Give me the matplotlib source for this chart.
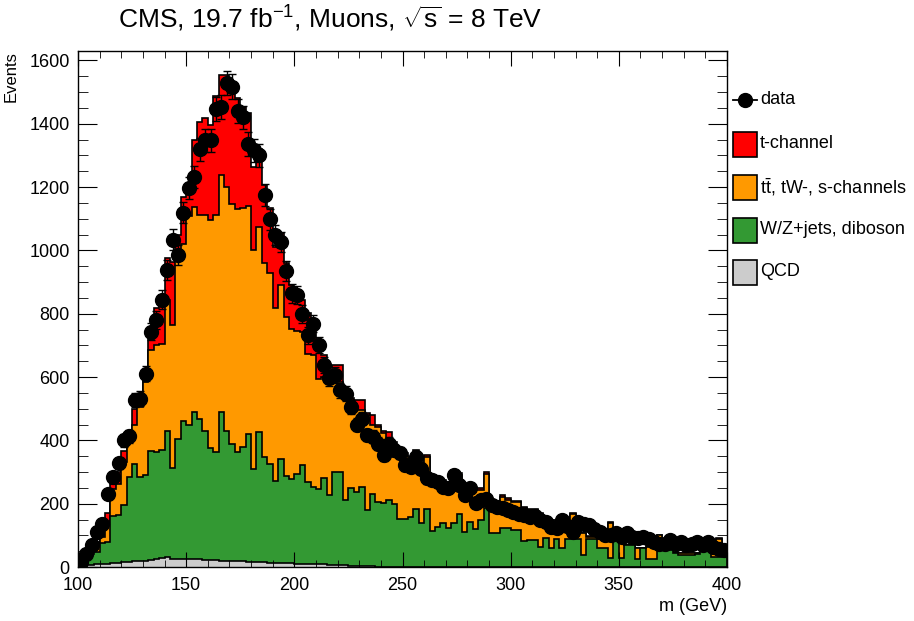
import numpy as np
import matplotlib

matplotlib.use("Agg")

import matplotlib.pyplot as plt
from matplotlib.lines import Line2D
from matplotlib.patches import Rectangle
from matplotlib.ticker import MultipleLocator

plt.rcParams["font.family"] = ["Liberation Sans", "DejaVu Sans"]
plt.rcParams["mathtext.fontset"] = "custom"
plt.rcParams["mathtext.rm"] = "Liberation Sans"
plt.rcParams["mathtext.it"] = "Liberation Sans:italic"
plt.rcParams["mathtext.bf"] = "Liberation Sans:bold"

# 120 bins of 2.5 GeV between 100 and 400 GeV
M_LOW, M_HIGH, N_BINS = 100, 400, 120

data = [16, 42, 69, 111, 137, 232, 283, 327, 400, 413,
        527, 532, 611, 743, 780, 845, 938, 1034, 985, 1119,
        1196, 1232, 1319, 1348, 1348, 1448, 1454, 1529, 1517, 1441,
        1420, 1336, 1317, 1301, 1175, 1098, 1048, 1027, 935, 864,
        859, 799, 732, 769, 701, 638, 596, 606, 559, 548,
        506, 450, 469, 417, 411, 390, 353, 390, 370, 359,
        322, 317, 348, 311, 280, 274, 269, 253, 248, 290,
        259, 227, 248, 201, 211, 216, 195, 190, 185, 180,
        174, 169, 164, 158, 160, 150, 143, 127, 122, 148,
        130, 111, 143, 137, 132, 120, 111, 101, 101, 106,
        95, 108, 95, 92, 95, 90, 80, 74, 74, 85,
        74, 80, 69, 74, 80, 69, 80, 64, 58, 55]

t_channel = [2, 3, 3, 4, 4, 35, 17, 38, 32, 20,
             50, 35, 15, 36, 117, 155, 133, 202, 71, 149,
             93, 210, 295, 306, 300, 376, 316, 353, 372, 348,
             321, 293, 264, 247, 248, 205, 193, 163, 168, 139,
             125, 101, 128, 90, 126, 70, 30, 53, 53, 12,
             8, 33, 33, 5, 32, 7, 8, 21, 15, 6,
             8, 8, 10, 8, 5, 7, 5, 6, 6, 2,
             6, 7, 7, 7, 8, 5, 4, 4, 6, 5,
             4, 2, 3, 2, 2, 3, 2, 2, 2, 2,
             2, 3, 1, 2, 2, 2, 1, 1, 2, 1,
             1, 1, 1, 1, 1, 1, 1, 1, 1, 1,
             1, 0, 0, 0, 0, 1, 1, 0, 4, 1]

ttbar = [8, 13, 15, 28, 21, 55, 85, 97, 138, 125,
         125, 220, 295, 318, 338, 335, 411, 450, 574, 561,
         663, 649, 643, 680, 720, 748, 749, 770, 759, 769,
         754, 719, 691, 647, 612, 602, 546, 549, 502, 474,
         451, 421, 405, 418, 347, 320, 363, 284, 284, 342,
         279, 258, 243, 300, 216, 237, 221, 193, 181, 206,
         199, 168, 177, 184, 166, 171, 153, 129, 142, 150,
         121, 134, 90, 124, 95, 110, 100, 100, 100, 91,
         90, 90, 102, 95, 95, 105, 39, 89, 37, 52,
         24, 82, 40, 69, 5, 5, 28, 28, 113, 21,
         79, 0, 0, 35, 0, 38, 38, 47, 13, 9,
         0, 8, 8, 8, 3, 8, 8, 11, 56, 16]

wjets = [9, 17, 34, 40, 65, 69, 148, 151, 180, 268,
         307, 266, 270, 344, 338, 343, 399, 287, 380, 434,
         421, 464, 444, 409, 354, 342, 469, 412, 369, 345,
         361, 404, 294, 410, 332, 312, 257, 329, 277, 266,
         283, 310, 258, 243, 238, 272, 220, 295, 295, 206,
         244, 235, 250, 178, 230, 205, 200, 212, 199, 153,
         153, 159, 182, 138, 182, 114, 127, 140, 122, 140,
         169, 109, 143, 119, 148, 185, 106, 106, 122, 122,
         116, 116, 83, 85, 85, 64, 93, 59, 90, 59,
         87, 87, 87, 37, 90, 90, 59, 59, 27, 85,
         27, 69, 69, 24, 59, 24, 24, 53, 53, 53,
         45, 37, 37, 37, 40, 51, 51, 32, 32, 43]

qcd = [3, 5, 6, 8, 10, 11, 12, 14, 15, 17,
       18, 19, 20, 22, 24, 27, 32, 26, 25, 26,
       26, 25, 24, 22, 22, 21, 20, 19, 20, 18,
       18, 17, 16, 16, 15, 14, 14, 13, 12, 12,
       11, 11, 10, 9, 9, 8, 7, 6, 6, 5,
       4, 3, 3, 2, 2, 1, 1, 1, 0, 0,
       0, 0, 0, 0, 0, 0, 0, 0, 0, 0,
       0, 0, 0, 0, 0, 0, 0, 0, 0, 0,
       0, 0, 0, 0, 0, 0, 0, 0, 0, 0,
       0, 0, 0, 0, 0, 0, 0, 0, 0, 0,
       0, 0, 0, 0, 0, 0, 0, 0, 0, 0,
       0, 0, 0, 0, 0, 0, 0, 0, 0, 0]

# stack order bottom -> top
stack_labels = ["QCD", "W/Z+jets, diboson", r"$\mathrm{t\bar{t}}$, tW-, s-channels", "t-channel"]
stack_colors = ["#cccccc", "#339933", "#ff9900", "#ff0000"]

W, H = 914, 621


def fx(px: float) -> float:
    return px / W


def fy(py: float) -> float:
    return 1 - py / H


def draw_legend(fig) -> None:
    # hand-placed legend column to the right of the frame (ROOT TLegend look)
    x0, x1, text_x = 733, 757, 760
    rows = [100, 144, 187, 230, 272]
    fig.add_artist(Line2D([fx(x0), fx(x1)], [fy(rows[0])] * 2, color="black", lw=1.3,
                          marker="", transform=fig.transFigure))
    fig.add_artist(Line2D([fx((x0 + x1) / 2)], [fy(rows[0])], color="black", marker="o",
                          ms=10, transform=fig.transFigure))
    fig.text(fx(text_x), fy(rows[0]), "data", fontsize=13, va="center", ha="left")
    order = list(reversed(range(len(stack_labels))))
    for row_y, i in zip(rows[1:], order):
        fig.add_artist(Rectangle((fx(x0), fy(row_y + 12.5)), fx(x1 - x0), 25 / H,
                                 facecolor=stack_colors[i], edgecolor="black", linewidth=1.2,
                                 transform=fig.transFigure))
        fig.text(fx(text_x), fy(row_y), stack_labels[i], fontsize=13, va="center", ha="left")


def main() -> None:
    edges = np.linspace(M_LOW, M_HIGH, N_BINS + 1)
    centers = 0.5 * (edges[:-1] + edges[1:])
    layers = np.array([qcd, wjets, ttbar, t_channel], dtype=float)
    cumulative = np.cumsum(layers, axis=0)

    fig = plt.figure(figsize=(W / 100, H / 100), dpi=100)
    ax = fig.add_axes([fx(78), 54 / H, 649 / W, 516 / H])

    # ROOT-like stack: draw largest cumulative first, each filled from zero
    for i in reversed(range(len(layers))):
        ax.stairs(cumulative[i], edges, baseline=0, fill=True,
                  facecolor=stack_colors[i], edgecolor="black", linewidth=1.2)

    yvals = np.array(data, dtype=float)
    ax.errorbar(centers, yvals, yerr=np.sqrt(yvals), fmt="o", color="black",
                ms=10, elinewidth=1.0, capsize=3, capthick=1.0, zorder=5)

    ax.set_xlim(M_LOW, M_HIGH)
    ax.set_ylim(0, 1630)
    ax.xaxis.set_major_locator(MultipleLocator(50))
    ax.xaxis.set_minor_locator(MultipleLocator(10))
    ax.yaxis.set_major_locator(MultipleLocator(200))
    ax.yaxis.set_minor_locator(MultipleLocator(50))
    ax.tick_params(which="both", direction="in", top=True, right=True, labelsize=13)
    ax.tick_params(axis="x", which="major", length=11, pad=7)
    ax.tick_params(axis="x", which="minor", length=5)
    ax.tick_params(axis="y", which="major", length=14, pad=6)
    ax.tick_params(axis="y", which="minor", length=7)
    for spine in ax.spines.values():
        spine.set_linewidth(1.0)

    ax.set_xlabel("m (GeV)", loc="right", fontsize=13, labelpad=3)
    ax.set_ylabel("Events", loc="top", fontsize=12, labelpad=8)

    fig.text(fx(118), fy(19), r"CMS, 19.7 fb$^{-1}$, Muons, $\sqrt{\mathrm{s}}$ = 8 TeV",
             fontsize=19, ha="left", va="center")

    draw_legend(fig)

    fig.savefig("out.png", dpi=100)
    plt.close(fig)


if __name__ == "__main__":
    main()
